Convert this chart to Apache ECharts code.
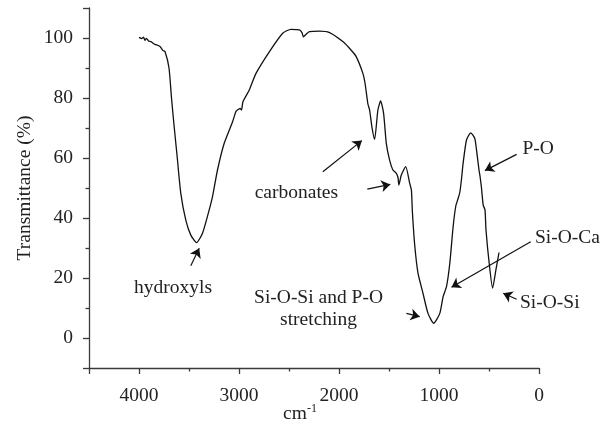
<!DOCTYPE html>
<html>
<head>
<meta charset="utf-8">
<script src="https://cdn.jsdelivr.net/npm/echarts@6/dist/echarts.min.js"></script>
<style>
  html, body { margin: 0; padding: 0; background: #fff; }
  #chart { width: 615px; height: 430px; }
</style>
</head>
<body>
<div id="chart"></div>
<script>
// FTIR spectrum
const wavenumber = [4000, 3970, 3955, 3940, 3925, 3905, 3880, 3850, 3790, 3760, 3740, 3700, 3675, 3650, 3620, 3582, 3532, 3482, 3425, 3365, 3298, 3265, 3215, 3148, 3065, 3031, 3015, 2990, 2975, 2960, 2897, 2830, 2697, 2563, 2480, 2396, 2370, 2356, 2330, 2296, 2195, 2095, 1962, 1880, 1828, 1761, 1740, 1711, 1694, 1671, 1644, 1611, 1584, 1554, 1527, 1494, 1461, 1427, 1410, 1401, 1377, 1333, 1293, 1276, 1266, 1243, 1210, 1160, 1110, 1053, 992, 959, 925, 892, 859, 832, 809, 792, 775, 759, 725, 682, 642, 625, 600, 590, 575, 558, 540, 530, 498, 464, 431, 400];
const transmittance = [100.2, 99.8, 100.3, 99.2, 99.9, 99.0, 98.8, 98.0, 97.2, 95.8, 95.5, 90, 80, 71, 61, 48.2, 39.3, 34.3, 31.8, 34.9, 42.7, 47.1, 56, 64.9, 72.0, 75.5, 76, 76.5, 76, 78.8, 82.7, 88.2, 95.4, 101.6, 102.9, 102.7, 101.8, 100.4, 101.2, 102.1, 102.3, 101.8, 98.8, 96, 93.8, 88.2, 85, 78, 76, 70.4, 66.2, 76, 79, 74.9, 64.9, 59.3, 56, 54.9, 53.5, 51, 54.3, 57.1, 51.6, 49.3, 42, 31, 21.6, 14.9, 8.2, 4.9, 8.2, 13.8, 17.1, 24.9, 37, 44, 46.5, 48.5, 53, 58.2, 66, 68.4, 66.5, 62.7, 56, 54, 50, 44.3, 42.7, 36, 24.9, 16.6, 22.7, 28.5];

// labels: centred ones and left-aligned ones, in data coordinates
const centerNotes = ['hydroxyls', 'carbonates', 'Si-O-Si and P-O\nstretching'];
const centerNoteAt = [[3659, 16.7], [2426, 48.3], [2205, 9.7]];
const leftNotes = ['P-O', 'Si-O-Ca', 'Si-O-Si'];
const leftNoteAt = [[165, 63], [40, 33.3], [190, 11.7]];

// arrows: tail -> head
const arrowFrom = [[3482, 24.1], [2162, 55.4], [1717, 49.6], [224, 61.2], [83, 32.1], [224, 12.9], [1326, 8.2]];
const arrowTo = [[3398, 29.9], [1771, 65.8], [1487, 51.2], [541, 55.8], [875, 16.9], [358, 14.9], [1193, 7.1]];

window.onload = function () {
  const chart = echarts.init(document.getElementById('chart'));
  const font = 'Liberation Serif';
  const fontSize = 19.5;
  const axisColor = '#3a3a3a';

  const points = wavenumber.map((w, i) => [w, transmittance[i]]);

  const markData = [];
  centerNotes.forEach((t, i) => {
    markData.push({ coord: centerNoteAt[i], label: { formatter: t, position: 'inside', align: 'center' } });
  });
  leftNotes.forEach((t, i) => {
    markData.push({ coord: leftNoteAt[i], label: { formatter: t, position: 'inside', align: 'left' } });
  });

  const arrows = arrowFrom.map((a, i) => [{ coord: a }, { coord: arrowTo[i] }]);

  const tickLabel = { fontFamily: font, fontSize: fontSize, color: '#222' };

  chart.setOption({
    animation: false,
    grid: { left: 89, right: 76, top: 8, bottom: 62, containLabel: false, outerBoundsMode: 'none' },
    xAxis: {
      type: 'value',
      inverse: true,
      min: 0,
      max: 4500,
      splitNumber: 5,
      name: 'cm{s|-1}',
      nameLocation: 'middle',
      nameGap: 35,
      nameMoveOverlap: false,
      nameTextStyle: {
        fontFamily: font, fontSize: fontSize, color: '#222', padding: [0, 28, 0, 0],
        rich: { s: { fontFamily: font, fontSize: 12, color: '#222', verticalAlign: 'top', padding: [0, 0, 9, 0] } }
      },
      axisLine: { onZero: false, lineStyle: { color: axisColor, width: 1.3 } },
      axisTick: { inside: false, length: 6, lineStyle: { color: axisColor, width: 1.3 } },
      minorTick: { show: true, splitNumber: 2, length: 3.5, lineStyle: { color: axisColor, width: 1.3 } },
      axisLabel: Object.assign({ margin: 18, formatter: v => (v % 1000 === 0 ? String(v) : '') }, tickLabel),
      splitLine: { show: false }
    },
    yAxis: {
      type: 'value',
      position: 'left',
      min: -10,
      max: 110,
      splitNumber: 5,
      name: 'Transmittance (%)',
      nameLocation: 'middle',
      nameGap: 54,
      nameMoveOverlap: false,
      nameTextStyle: { fontFamily: font, fontSize: fontSize, color: '#222' },
      axisLine: { show: true, onZero: false, lineStyle: { color: axisColor, width: 1.3 } },
      axisTick: { show: true, inside: false, length: 6, lineStyle: { color: axisColor, width: 1.3 } },
      minorTick: { show: true, splitNumber: 2, length: 3.5, lineStyle: { color: axisColor, width: 1.3 } },
      axisLabel: Object.assign({ margin: 16, formatter: v => (v % 20 === 0 ? String(v) : '') }, tickLabel),
      splitLine: { show: false }
    },
    series: [{
      type: 'line',
      data: points,
      showSymbol: false,
      symbol: 'none',
      smooth: 0.2,
      lineStyle: { color: '#111', width: 1.3 },
      markPoint: {
        symbol: 'circle',
        symbolSize: 0,
        silent: true,
        itemStyle: { color: 'rgba(0,0,0,0)' },
        label: { show: true, fontFamily: font, fontSize: fontSize, color: '#222', lineHeight: 22 },
        data: markData
      },
      markLine: {
        silent: true,
        symbol: ['none', 'arrow'],
        symbolSize: 9,
        label: { show: false },
        lineStyle: { color: '#111', width: 1.2, type: 'solid' },
        data: arrows
      }
    }]
  });
};
</script>
</body>
</html>
